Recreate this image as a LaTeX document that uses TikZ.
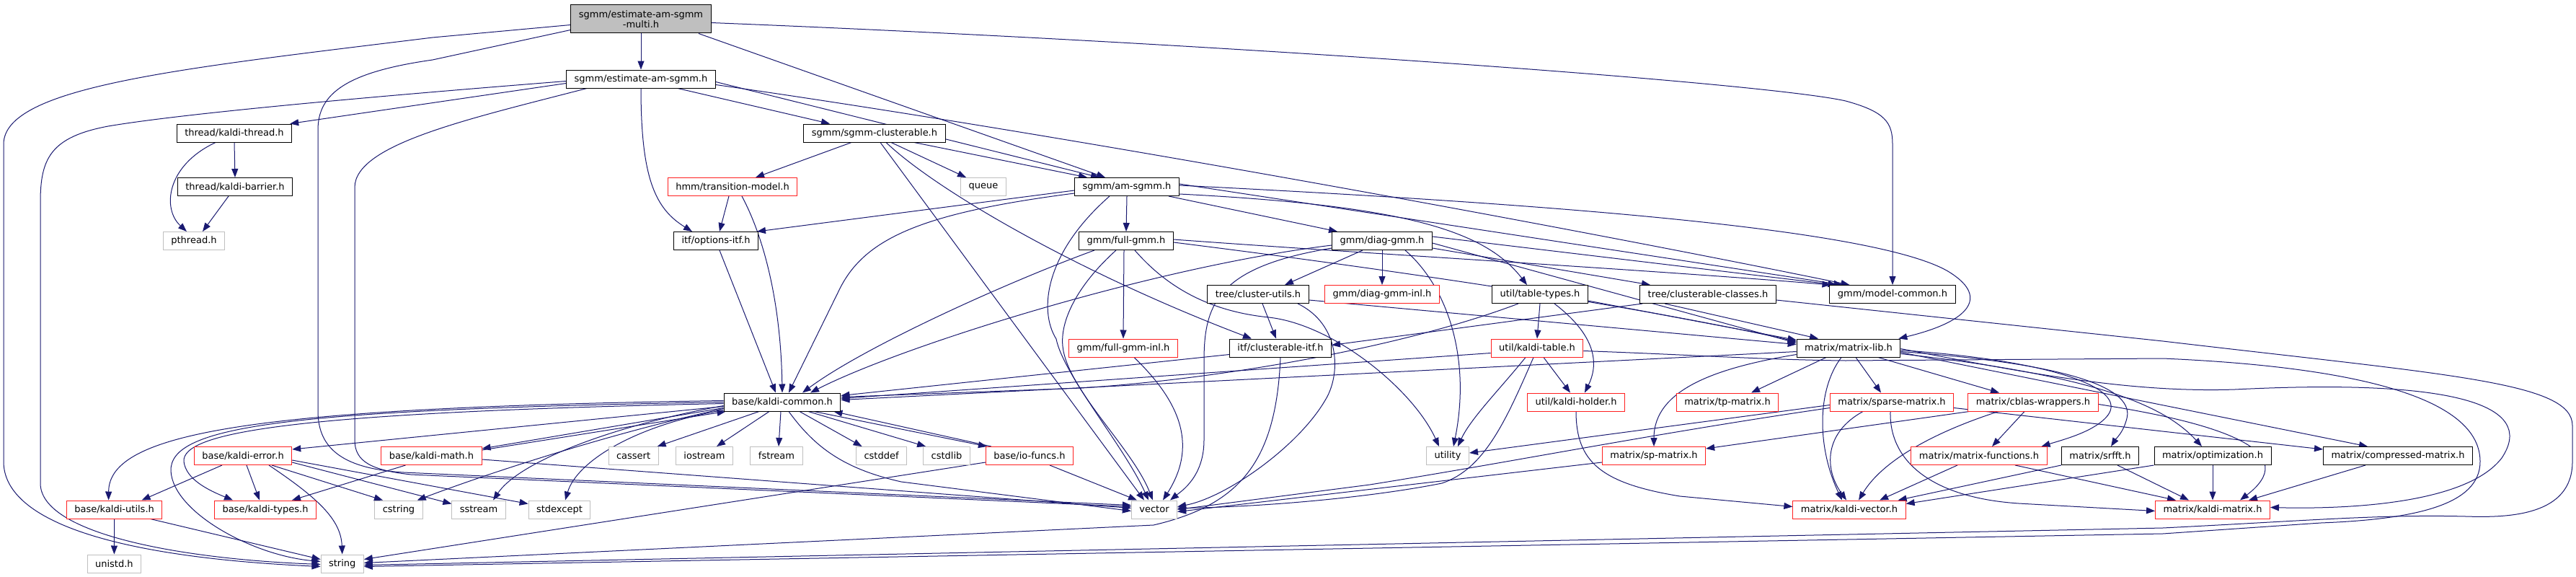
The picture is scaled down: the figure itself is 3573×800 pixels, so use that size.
\documentclass[tikz,border=0pt]{standalone}
\usepackage{fontspec}
\setmainfont{DejaVu Sans}
\usetikzlibrary{arrows.meta,backgrounds}
\definecolor{edgec}{HTML}{191970}
\definecolor{extc}{HTML}{BFBFBF}
\definecolor{redc}{HTML}{FF2020}
\newcommand\dxfont{\fontsize{13}{14}\selectfont}
\begin{document}
\begin{tikzpicture}[x=1pt,y=-1pt,
  box/.style={draw=black,line width=1pt,fill=white,inner xsep=11pt,inner ysep=0pt,minimum height=25pt,font=\dxfont},
  redbox/.style={box,draw=redc},
  extbox/.style={box,draw=extc},
  topbox/.style={box,fill=extc,minimum height=39pt,align=center},
  ed/.style={draw=edgec,line width=1pt,-{Triangle[length=12pt,width=9pt]}}]
\useasboundingbox (0,0) rectangle (3573,800);
% nodes
\node[topbox] (M) at (889,26.5) {sgmm/estimate-am-sgmm\\-multi.h};
\node[box] (E) at (889,109.5) {sgmm/estimate-am-sgmm.h};
\node[box] (thr) at (325,184.5) {thread/kaldi-thread.h};
\node[box] (SC) at (1213,184.5) {sgmm/sgmm-clusterable.h};
\node[box] (bar) at (326,259) {thread/kaldi-barrier.h};
\node[redbox] (TM) at (1016,259) {hmm/transition-model.h};
\node[extbox] (queue) at (1364,259) {queue};
\node[box] (AS) at (1563,259) {sgmm/am-sgmm.h};
\node[extbox] (pth) at (269,334) {pthread.h};
\node[box] (OI) at (993,334) {itf/options-itf.h};
\node[box] (FG) at (1562,334) {gmm/full-gmm.h};
\node[box] (DG) at (1917,334) {gmm/diag-gmm.h};
\node[box] (CU) at (1745,408) {tree/cluster-utils.h};
\node[redbox] (DGI) at (1917,408) {gmm/diag-gmm-inl.h};
\node[box] (TT) at (2136,408) {util/table-types.h};
\node[box] (CC) at (2369,408) {tree/clusterable-classes.h};
\node[box] (MC) at (2625,408) {gmm/model-common.h};
\node[redbox] (FGI) at (1558,482.5) {gmm/full-gmm-inl.h};
\node[box] (CI) at (1776,482.5) {itf/clusterable-itf.h};
\node[redbox] (KT) at (2132,482.5) {util/kaldi-table.h};
\node[box] (ML) at (2564,482.5) {matrix/matrix-lib.h};
\node[box] (KC) at (1085,557.5) {base/kaldi-common.h};
\node[redbox] (KH) at (2186,557.5) {util/kaldi-holder.h};
\node[redbox] (TP) at (2396,557.5) {matrix/tp-matrix.h};
\node[redbox] (SPM) at (2624,557.5) {matrix/sparse-matrix.h};
\node[redbox] (CB) at (2820,557.5) {matrix/cblas-wrappers.h};
\node[redbox] (KE) at (337,632) {base/kaldi-error.h};
\node[redbox] (KM) at (598.5,632) {base/kaldi-math.h};
\node[extbox] (cassert) at (878.6,632) {cassert};
\node[extbox] (iostream) at (977,632) {iostream};
\node[extbox] (fstream) at (1077,632) {fstream};
\node[extbox] (cstddef) at (1222.6,632) {cstddef};
\node[extbox] (cstdlib) at (1313,632) {cstdlib};
\node[redbox] (IO) at (1428,632) {base/io-funcs.h};
\node[extbox] (util) at (2008,632) {utility};
\node[redbox] (SP) at (2294,632) {matrix/sp-matrix.h};
\node[redbox] (MF) at (2745,632) {matrix/matrix-functions.h};
\node[box] (SR) at (2913,632) {matrix/srfft.h};
\node[box] (OPT) at (3069,632) {matrix/optimization.h};
\node[box] (CM) at (3326,632) {matrix/compressed-matrix.h};
\node[redbox] (KU) at (158.6,706.5) {base/kaldi-utils.h};
\node[redbox] (KTY) at (368,706.5) {base/kaldi-types.h};
\node[extbox] (cstring) at (553,706.5) {cstring};
\node[extbox] (sstream) at (664,706.5) {sstream};
\node[extbox] (stdexcept) at (776,706.5) {stdexcept};
\node[extbox] (vec) at (1601,706.5) {vector};
\node[redbox] (KV) at (2565,706.5) {matrix/kaldi-vector.h};
\node[redbox] (KMX) at (3069,706.5) {matrix/kaldi-matrix.h};
\node[extbox] (unistd) at (158.4,781.5) {unistd.h};
\node[extbox] (str) at (474.7,781.5) {string};
\begin{scope}[on background layer]
\fill[white] (0,0) rectangle (3573,800);
% M
\draw[ed] (M.south) -- (E.north);
\draw[ed] ([yshift=-8pt]M.west) -- (600,52) .. controls (250,95) and (5,120) .. (5,200) -- (5,640) .. controls (5,720) and (150,772) .. ([yshift=-4pt]str.west);
\draw[ed] ([yshift=-15pt]M.west) -- (600,83) .. controls (480,100) and (441,130) .. (441,180) -- (441,570) .. controls (441,625) and (480,650) .. (560,655) -- ([yshift=6pt]vec.west);
\draw[ed] ([xshift=80pt]M.south) -- ([xshift=-30pt]AS.north);
\draw[ed] ([yshift=-5pt]M.east) .. controls (1700,60) and (2450,115) .. (2560,140) .. controls (2615,155) and (2625,170) .. (2625,200) -- (MC.north);
% E
\draw[ed] ([yshift=-6pt]E.west) -- ([xshift=-3pt]thr.north east);
\draw[ed] ([yshift=-3pt]E.west) .. controls (500,135) and (250,158) .. (150,175) .. controls (70,190) and (56,220) .. (56,280) -- (56,670) .. controls (56,740) and (250,775) .. ([yshift=-1pt]str.west);
\draw[ed] ([xshift=-75pt]E.south) .. controls (650,165) and (492,200) .. (492,260) -- (492,610) .. controls (492,640) and (515,652) .. (570,658) -- ([yshift=4pt]vec.west);
\draw[ed] ([xshift=51pt]E.south) -- ([xshift=-62pt]SC.north);
\draw[ed] ([yshift=-4pt]E.east) -- ([xshift=-38pt]AS.north);
\draw[ed] ([yshift=-8pt]E.east) .. controls (1500,190) and (2200,320) .. ([xshift=28pt]MC.north west);
\draw[ed] (E.south) .. controls (889,250) and (910,290) .. ([xshift=-33pt]OI.north);
% SC
\draw[ed] ([xshift=23pt]SC.south) -- ([xshift=-24pt]queue.north);
\draw[ed] ([xshift=55pt]SC.south) -- ([xshift=-55pt]AS.north);
\draw[ed] ([xshift=-32pt]SC.south) -- ([xshift=32pt]TM.north);
\draw[ed] ([xshift=8pt]SC.south) -- ([xshift=-14pt]vec.north);
\draw[ed] ([xshift=16pt]SC.south) .. controls (1300,265) and (1500,380) .. ([xshift=-40pt]CI.north);
% TM, OI
\draw[ed] ([xshift=-5pt]TM.south) -- ([xshift=5pt]OI.north);
\draw[ed] ([xshift=13pt]TM.south) .. controls (1060,330) and (1083,420) .. (KC.north);
\draw[ed] ([xshift=5pt]OI.south) -- ([xshift=-9pt]KC.north);
% AS
\draw[ed] ([yshift=-5pt]AS.west) -- ([xshift=-2pt]OI.north east);
\draw[ed] ([yshift=-9pt]AS.west) .. controls (1280,295) and (1200,330) .. (1165,400) -- ([xshift=9pt]KC.north);
\draw[ed] ([xshift=-24pt]AS.south) .. controls (1450,350) and (1440,430) .. (1465,470) .. controls (1475,520) and (1560,620) .. ([xshift=-8pt]vec.north);
\draw[ed] (AS.south) -- (FG.north);
\draw[ed] ([xshift=58pt]AS.south) -- ([xshift=-62pt]DG.north);
\draw[ed] ([yshift=4pt]AS.east) -- ([xshift=18pt]MC.north west);
\draw[ed] ([yshift=2pt]AS.east) .. controls (2200,285) and (2600,320) .. (2700,375) .. controls (2760,410) and (2735,445) .. ([xshift=-3pt]ML.north east);
\draw[ed] ([yshift=-10pt]AS.east) .. controls (1950,285) and (2060,320) .. ([xshift=-18pt]TT.north);
% FG
\draw[ed] ([xshift=-44pt]FG.south) .. controls (1400,390) and (1200,480) .. ([xshift=28pt]KC.north);
\draw[ed] ([xshift=-14pt]FG.south) .. controls (1500,390) and (1470,440) .. (1474,480) .. controls (1480,540) and (1570,620) .. ([xshift=-2pt]vec.north);
\draw[ed] ([xshift=-3pt]FG.south) -- (FGI.north);
\draw[ed] ([xshift=12pt]FG.south) .. controls (1620,400) and (1680,432) .. (1760,440) .. controls (1850,450) and (1960,540) .. ([xshift=-12pt]util.north);
\draw[ed] ([yshift=2pt]FG.east) .. controls (1900,352) and (2300,375) .. ([xshift=2pt]MC.north west);
\draw[ed] ([yshift=-2pt]FG.east) .. controls (1900,370) and (2250,420) .. ([yshift=9pt]ML.west);
% DG
\draw[ed] ([yshift=-6pt]DG.west) .. controls (1600,370) and (1250,480) .. ([xshift=39pt]KC.north);
\draw[ed] ([yshift=-10pt]DG.west) .. controls (1690,370) and (1670,420) .. (1670,500) -- (1670,610) .. controls (1670,660) and (1640,680) .. ([xshift=22pt]vec.north);
\draw[ed] ([xshift=-27pt]DG.south) -- ([xshift=37pt]CU.north);
\draw[ed] (DG.south) -- (DGI.north);
\draw[ed] ([xshift=32pt]DG.south) .. controls (2010,400) and (2040,500) .. ([xshift=8pt]util.north);
\draw[ed] ([yshift=6pt]DG.east) -- ([xshift=10pt]MC.north west);
\draw[ed] ([yshift=-3pt]DG.east) -- ([yshift=7pt]ML.west);
\draw[ed] ([yshift=-10pt]DG.east) -- ([xshift=-80pt]CC.north);
% CU
\draw[ed] ([xshift=6pt]CU.south) -- ([xshift=-6pt]CI.north);
\draw[ed] ([yshift=-8pt]CU.east) -- ([yshift=5pt]ML.west);
\draw[ed] ([xshift=55pt]CU.south) .. controls (1860,450) and (1860,520) .. (1838,555) .. controls (1800,620) and (1700,690) .. ([yshift=4pt]vec.east);
% CC
\draw[ed] ([xshift=4pt]CC.south west) -- ([yshift=4pt]CI.east);
\draw[ed] ([xshift=-60pt]CC.south) -- ([xshift=-42pt]ML.north);
\draw[ed] ([yshift=-8pt]CC.east) -- (3000,473) .. controls (3400,520) and (3568,530) .. (3568,590) -- (3568,640) .. controls (3568,715) and (3480,718) .. (3420,716) .. controls (3300,713) and (3200,722) .. (3000,732) -- ([yshift=-2pt]str.east);
% TT
\draw[ed] ([xshift=-30pt]TT.south) .. controls (1950,480) and (1700,525) .. (1500,538) -- ([yshift=7pt]KC.east);
\draw[ed] (TT.south) -- (KT.north);
\draw[ed] ([xshift=20pt]TT.south) .. controls (2220,470) and (2215,510) .. ([xshift=12pt]KH.north);
\draw[ed] ([yshift=-9pt]TT.east) -- ([yshift=11pt]ML.west);
% KT
\draw[ed] ([yshift=-7pt]KT.west) -- ([yshift=5pt]KC.east);
\draw[ed] ([xshift=-16pt]KT.south) .. controls (2080,540) and (2040,580) .. ([xshift=14pt]util.north);
\draw[ed] ([xshift=-5pt]KT.south) .. controls (2090,580) and (2060,650) .. (2000,670) .. controls (1900,690) and (1750,703) .. ([yshift=2pt]vec.east);
\draw[ed] ([xshift=9pt]KT.south) -- ([xshift=-8pt]KH.north);
\draw[ed] ([yshift=-4pt]KT.east) .. controls (2350,492) and (2450,499) .. (2560,500) -- (3000,497) .. controls (3300,510) and (3440,560) .. (3440,640) .. controls (3440,700) and (3350,720) .. (3219,725) -- (3000,740) -- ([yshift=-4pt]str.east);
% KH, CI
\draw[ed] (KH.south) .. controls (2186,640) and (2220,670) .. (2330,688) -- ([yshift=4pt]KV.west);
\draw[ed] ([yshift=-9pt]CI.west) -- ([yshift=9pt]KC.east);
\draw[ed] (CI.south) .. controls (1770,640) and (1720,700) .. (1600,728) -- ([yshift=1pt]str.east);
% ML
\draw[ed] ([yshift=-5pt]ML.west) -- ([yshift=3pt]KC.east);
\draw[ed] ([yshift=-9pt]ML.west) .. controls (2380,510) and (2294,540) .. (SP.north);
\draw[ed] ([xshift=-31pt]ML.south) -- ([xshift=33pt]TP.north);
\draw[ed] ([xshift=-10pt]ML.south) .. controls (2520,540) and (2520,620) .. ([xshift=-10pt]KV.north);
\draw[ed] ([xshift=10pt]ML.south) -- ([xshift=-15pt]SPM.north);
\draw[ed] ([xshift=41pt]ML.south) -- ([xshift=-47pt]CB.north);
\draw[ed] ([yshift=-3pt]ML.east) .. controls (2850,500) and (2960,540) .. (2920,580) .. controls (2900,600) and (2860,610) .. ([xshift=-8pt]MF.north east);
\draw[ed] ([yshift=-5pt]ML.east) .. controls (2880,505) and (2960,540) .. (2950,580) .. controls (2945,600) and (2935,608) .. ([xshift=15pt]SR.north);
\draw[ed] ([yshift=-8pt]ML.east) .. controls (2900,520) and (3000,560) .. ([xshift=-15pt]OPT.north);
\draw[ed] ([yshift=-6pt]ML.east) -- ([xshift=-42pt]CM.north);
\draw[ed] ([yshift=-1pt]ML.east) .. controls (2800,515) and (2950,545) .. (3100,540) .. controls (3400,525) and (3520,560) .. (3470,635) .. controls (3420,700) and (3250,706) .. ([yshift=3pt]KMX.east);
% CB
\draw[ed] ([xshift=2pt]CB.south west) -- ([yshift=10pt]SP.east);
\draw[ed] ([xshift=-48pt]CB.south) .. controls (2680,600) and (2610,640) .. ([xshift=13pt]KV.north);
\draw[ed] ([xshift=-12pt]CB.south) -- ([xshift=18pt]MF.north);
\draw[ed] ([yshift=-3pt]CB.east) .. controls (3100,590) and (3190,630) .. ([xshift=38pt]KMX.north);
% SPM, SP
\draw[ed] ([yshift=-4pt]SPM.west) -- ([yshift=4pt]util.east);
\draw[ed] ([yshift=-8pt]SPM.west) .. controls (2300,600) and (2100,640) .. (1900,672) -- (vec.east);
\draw[ed] ([xshift=-40pt]SPM.south) .. controls (2530,600) and (2530,650) .. ([xshift=-4pt]KV.north);
\draw[ed] ([xshift=-2pt]SPM.south) .. controls (2620,640) and (2680,690) .. (2800,698) -- ([yshift=-2pt]KMX.west);
\draw[ed] ([yshift=-8pt]SPM.east) -- ([yshift=9pt]CM.west);
\draw[ed] ([yshift=-9pt]SP.west) -- ([yshift=-3pt]vec.east);
% MF, SR, OPT, CM
\draw[ed] ([xshift=-30pt]MF.south) -- ([xshift=42pt]KV.north);
\draw[ed] ([xshift=50pt]MF.south) -- ([xshift=-51pt]KMX.north);
\draw[ed] (SR.south west) -- ([xshift=-11pt]KV.north east);
\draw[ed] ([xshift=24pt]SR.south) -- ([xshift=-33pt]KMX.north);
\draw[ed] (OPT.south west) -- ([yshift=8pt]KV.east);
\draw[ed] (OPT.south) -- (KMX.north);
\draw[ed] ([xshift=-45pt]CM.south) -- ([xshift=50pt]KMX.north);
% KC
\draw[ed] ([yshift=2pt]KC.west) .. controls (350,565) and (151,600) .. ([xshift=-8pt]KU.north);
\draw[ed] (KC.west) .. controls (400,568) and (235,590) .. (237,653) .. controls (240,710) and (350,770) .. ([yshift=3pt]str.west);
\draw[ed] ([yshift=-2pt]KC.west) .. controls (400,572) and (252,600) .. (255,640) .. controls (258,665) and (290,680) .. ([xshift=-45pt]KTY.north);
\draw[ed] ([yshift=-6pt]KC.west) -- ([yshift=9pt]KE.east);
\draw[ed] ([yshift=-8pt]KC.west) -- ([yshift=10pt]KM.east);
\draw[ed] ([yshift=8pt]KM.east) -- ([xshift=3pt]KC.south west);
\draw[ed] ([xshift=-32pt]KC.south) -- ([xshift=-2pt]cassert.north east);
\draw[ed] ([xshift=-18pt]KC.south) -- ([xshift=17pt]iostream.north);
\draw[ed] ([xshift=-2pt]KC.south) -- ([xshift=3pt]fstream.north);
\draw[ed] ([xshift=24pt]KC.south) -- ([xshift=-27pt]cstddef.north);
\draw[ed] ([xshift=36pt]KC.south) -- ([xshift=4pt]cstdlib.north west);
\draw[ed] ([xshift=44pt]KC.south) -- ([xshift=2pt]IO.north west);
\draw[ed] ([xshift=8pt]IO.north west) -- ([xshift=-10pt]KC.south east);
\draw[ed] ([xshift=9pt]KC.south) .. controls (1130,620) and (1170,650) .. (1250,668) -- ([yshift=-2pt]vec.west);
\draw[ed] ([yshift=-5pt]KC.west) .. controls (850,590) and (720,640) .. ([xshift=20pt]sstream.north);
\draw[ed] ([yshift=2pt]KC.south west) .. controls (880,590) and (800,640) .. ([xshift=8pt]stdexcept.north);
\draw[ed] ([yshift=-9pt]KC.west) .. controls (850,600) and (680,655) .. ([xshift=-8pt]cstring.north east);
% KE, KM, KU, IO, FGI
\draw[ed] ([xshift=-29pt]KE.south) -- ([xshift=38pt]KU.north);
\draw[ed] ([xshift=5pt]KE.south) -- ([xshift=-8pt]KTY.north);
\draw[ed] ([xshift=36pt]KE.south) .. controls (440,690) and (473,720) .. (str.north);
\draw[ed] ([xshift=40pt]KE.south) -- ([xshift=-22pt]cstring.north);
\draw[ed] ([yshift=-9pt]KE.east) -- ([yshift=8pt]sstream.west);
\draw[ed] ([yshift=-6pt]KE.east) -- ([yshift=8pt]stdexcept.west);
\draw[ed] ([xshift=-36pt]KM.south) -- ([xshift=37pt]KTY.north);
\draw[ed] ([yshift=-5pt]KM.east) -- ([yshift=2pt]vec.west);
\draw[ed] (KU.south) -- (unistd.north);
\draw[ed] ([xshift=50pt]KU.south) -- ([yshift=6pt]str.west);
\draw[ed] ([xshift=28pt]IO.south) -- ([xshift=-24pt]vec.north);
\draw[ed] ([yshift=-9pt]IO.west) -- ([yshift=6pt]str.east);
\draw[ed] ([xshift=15pt]FGI.south) .. controls (1640,560) and (1660,620) .. ([xshift=12pt]vec.north);
% thread
\draw[ed] (thr.south) -- (bar.north);
\draw[ed] ([xshift=-26pt]thr.south) .. controls (230,230) and (225,290) .. ([xshift=-10pt]pth.north);
\draw[ed] ([xshift=-9pt]bar.south) -- ([xshift=12pt]pth.north);
\end{scope}
\end{tikzpicture}
\end{document}
